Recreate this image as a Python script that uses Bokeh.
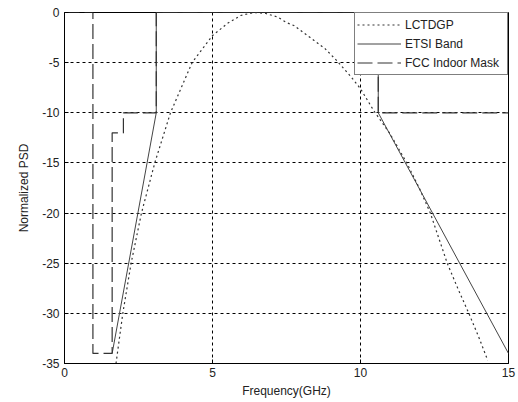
from bokeh.plotting import figure
from bokeh.models import Range1d, Legend, LegendItem, FixedTicker, PrintfTickFormatter
from bokeh.embed import file_html
from bokeh.resources import INLINE

# LCTDGP spectrum (normalized PSD, dB)
lctdgp_f = [1.74, 1.97, 2.25, 2.6, 3.05, 3.58, 4.31, 5.0, 5.5, 5.95, 6.4, 6.8, 7.2, 7.5,
            7.75, 8.3, 8.8, 9.2, 9.65, 10.0, 10.45, 11.0, 11.58, 12.0, 12.36, 12.93,
            13.3, 13.66, 14.0, 14.3]
lctdgp_psd = [-35, -30, -25, -20, -15, -10, -5, -2.3, -1.1, -0.3, 0, -0.1, -0.45, -1.0,
              -1.3, -2.5, -3.6, -4.8, -6.3, -7.6, -9.8, -12.1, -15.1, -17.6, -20, -25,
              -27.6, -30, -32.4, -34.7]

# ETSI band
etsi_f = [1.61, 3.1, 3.1, 10.6, 10.6, 15]
etsi_psd = [-34, -10, 0, 0, -10, -34]

# FCC indoor mask
fcc_f = [0, 0.96, 0.96, 1.61, 1.61, 1.99, 1.99, 3.1, 3.1, 10.6, 10.6, 15]
fcc_psd = [0, 0, -34, -34, -12, -12, -10, -10, 0, 0, -10, -10]

x_ticks = [0, 5, 10, 15]
y_ticks = [0, -5, -10, -15, -20, -25, -30, -35]

FONT = "Liberation Sans"
INK = "#222222"

p = figure(width=518, height=402, output_backend="svg", toolbar_location=None,
           x_range=Range1d(0, 15), y_range=Range1d(-35, 0),
           min_border_left=64, min_border_right=10, min_border_top=12, min_border_bottom=39)
p.background_fill_color = "white"
p.border_fill_color = "white"
p.outline_line_color = "black"
p.outline_line_width = 1

for ax in (p.xaxis, p.yaxis):
    ax.axis_line_color = "black"
    ax.major_tick_in = 4
    ax.major_tick_out = 0
    ax.minor_tick_line_color = None
    ax.major_tick_line_color = "black"
    ax.major_label_text_font = FONT
    ax.major_label_text_font_size = "12px"
    ax.major_label_text_color = INK
    ax.axis_label_text_font = FONT
    ax.axis_label_text_font_size = "12px"
    ax.axis_label_text_font_style = "normal"
    ax.axis_label_text_color = INK
    ax.formatter = PrintfTickFormatter(format="%d")

p.xaxis.ticker = FixedTicker(ticks=x_ticks)
p.yaxis.ticker = FixedTicker(ticks=y_ticks)
p.xaxis.major_label_standoff = 4
p.yaxis.major_label_standoff = 5
p.xaxis.axis_label = "Frequency(GHz)"
p.yaxis.axis_label = "Normalized PSD"
p.xaxis.axis_label_standoff = 4
p.yaxis.axis_label_standoff = 8

p.grid.grid_line_color = "black"
p.grid.grid_line_dash = "3 3"
p.grid.grid_line_width = 1
p.xgrid.ticker = FixedTicker(ticks=x_ticks)
p.ygrid.ticker = FixedTicker(ticks=y_ticks)

r1 = p.line(lctdgp_f, lctdgp_psd, line_color="#333333", line_width=1.2, line_dash="2 3")
r2 = p.line(etsi_f, etsi_psd, line_color="#444444", line_width=1)
r3 = p.line(fcc_f, fcc_psd, line_color="#333333", line_width=1.2, line_dash="15 5")

legend = Legend(items=[LegendItem(label="LCTDGP", renderers=[r1]),
                       LegendItem(label="ETSI Band", renderers=[r2]),
                       LegendItem(label="FCC Indoor Mask", renderers=[r3])],
                location="top_right", margin=0, padding=2, spacing=0,
                glyph_width=44, glyph_height=19, label_height=19, label_width=100,
                label_standoff=4, border_line_color="black", border_line_width=1,
                background_fill_color="white", background_fill_alpha=1,
                label_text_font=FONT, label_text_font_size="12px", label_text_color=INK)
p.add_layout(legend)

open("out.html", "w").write(file_html(p, INLINE))
